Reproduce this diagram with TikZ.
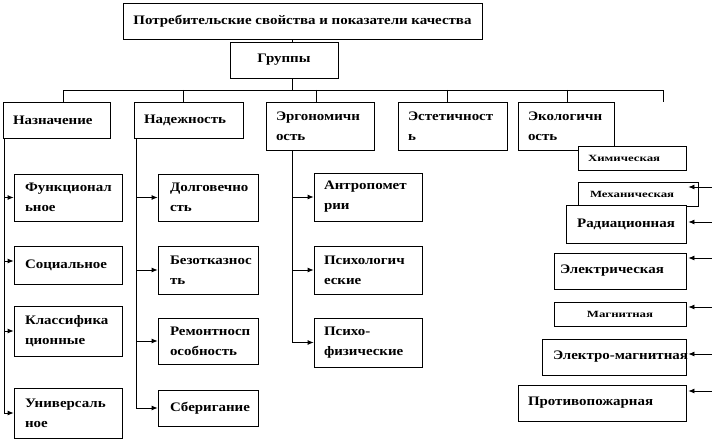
\documentclass[tikz,border=0pt]{standalone}
\usepackage{fontspec}
\setmainfont{Liberation Serif}[FakeStretch=1.15]
\newfontfamily\smallfnt{Liberation Serif}[FakeStretch=1.35]
\usetikzlibrary{arrows.meta}
\begin{document}
\begin{tikzpicture}[x=1pt,y=-1pt,
  ln/.style={line width=0.8pt},
  bx/.style={draw, fill=white, line width=0.8pt, inner sep=0pt,
    font=\bfseries\fontsize{13}{20}\selectfont},
  sbx/.style={draw, fill=white, line width=0.8pt, inner sep=0pt,
    font=\smallfnt\bfseries\fontsize{9.5}{12}\selectfont},
  lt/.style={align=left, text width=#1},
  sz/.style 2 args={minimum width=#1, minimum height=#2},
  arr/.style={ln, -{Latex[length=6pt,width=5pt]}}]
\useasboundingbox (0,0) rectangle (712,441);

% top levels
\node[bx, sz={359pt}{36pt}] (title) at (302.5,21) {Потребительские свойства и показатели качества};
\node[bx, sz={108pt}{36pt}] (grp) at (284,60) {Группы};

% level 2
\node[bx, sz={107pt}{36pt}, lt=87pt] (nazn) at (56.5,120) {Назначение};
\node[bx, sz={109pt}{36pt}, lt=89pt] (nadezh) at (188.5,120) {Надежность};
\node[bx, sz={108pt}{48pt}, lt=88pt] (ergo) at (320,126) {Эргономичн\\ость};
\node[bx, sz={109pt}{48pt}, lt=89pt] (estet) at (452.5,126) {Эстетичност\\ь};
\node[bx, sz={96pt}{48pt}, lt=76pt] (ekol) at (566,126) {Экологичн\\ость};

% column 1
\node[bx, sz={108pt}{47pt}, lt=86pt] (func) at (68,197.5) {Функционал\\ьное};
\node[bx, sz={108pt}{38pt}, lt=86pt] (soc) at (68,265) {Социальное};
\node[bx, sz={108pt}{50pt}, lt=86pt] (klass) at (68,331) {Классифика\\ционные};
\node[bx, sz={108pt}{50pt}, lt=86pt] (univ) at (68,413) {Универсаль\\ное};

% column 2
\node[bx, sz={100pt}{47pt}, lt=76pt] (dolg) at (208,197.5) {Долговечно\\сть};
\node[bx, sz={100pt}{48pt}, lt=76pt] (bezotk) at (208,270) {Безотказнос\\ть};
\node[bx, sz={100pt}{46pt}, lt=76pt] (remont) at (208,341) {Ремонтносп\\особность};
\node[bx, sz={100pt}{36pt}, lt=76pt] (sber) at (208,408) {Сберигание};

% column 3
\node[bx, sz={108pt}{48pt}, lt=88pt] (antr) at (368,197) {Антропомет\\рии};
\node[bx, sz={108pt}{48pt}, lt=88pt] (psih) at (368,270) {Психологич\\еские};
\node[bx, sz={108pt}{49pt}, lt=88pt] (psfiz) at (368,342.5) {Психо-\\физические};

% right column
\node[sbx, sz={108pt}{24pt}, lt=88pt] (him) at (632,158) {Химическая};
\node[sbx, sz={120pt}{24pt}, lt=96pt] (meh) at (638,194) {\raisebox{-5pt}{Механическая}};
\node[bx, sz={120pt}{38pt}] (rad) at (626,224.5) {Радиационная};
\node[bx, sz={132pt}{36pt}, lt=120pt] (elek) at (620,271) {Электрическая};
\node[sbx, sz={132pt}{24pt}] (magn) at (620,314) {Магнитная};
\node[bx, sz={144pt}{36pt}, lt=122pt] (elmag) at (614,357) {\mbox{Электро-магнитная}};
\node[bx, sz={168pt}{36pt}, lt=148pt] (protiv) at (602,403) {Противопожарная};

% trunk and bus
\coordinate (tr) at (292,90);
\coordinate (b1) at (63,90);
\coordinate (b2) at (183,90);
\coordinate (b3) at (316,90);
\coordinate (b4) at (447,90);
\coordinate (b5) at (567,90);
\coordinate (b6) at (663,90);
\coordinate (b6e) at (663,102);
\draw[ln] (title.south -| tr) -- (grp.north -| tr);
\draw[ln] (grp.south -| tr) -- (tr);
\draw[ln] (nazn.north -| b1) -- (b1) -- (b6) -- (b6e);
\draw[ln] (b2) -- (nadezh.north -| b2);
\draw[ln] (b3) -- (ergo.north -| b3);
\draw[ln] (b4) -- (estet.north -| b4);
\draw[ln] (b5) -- (ekol.north -| b5);

% column connectors
\coordinate (c1) at (4,0);
\coordinate (c2) at (136,0);
\draw[arr] (nazn.south -| c1) |- (func.west);
\draw[arr] (nazn.south -| c1) |- ([yshift=4pt]soc.west);
\draw[arr] (nazn.south -| c1) |- (klass.west);
\draw[arr] (nazn.south -| c1) |- (univ.west);
\draw[arr] (nadezh.south -| c2) |- (dolg.west);
\draw[arr] (nadezh.south -| c2) |- (bezotk.west);
\draw[arr] (nadezh.south -| c2) |- (remont.west);
\draw[arr] (nadezh.south -| c2) |- (sber.west);
\draw[arr] (ergo.south -| tr) |- (antr.west);
\draw[arr] (ergo.south -| tr) |- (psih.west);
\draw[arr] (ergo.south -| tr) |- (psfiz.west);

% right arrows
\coordinate (r1) at (712,187);
\coordinate (r2) at (712,222);
\coordinate (r3) at (712,258);
\coordinate (r4) at (712,307);
\coordinate (r5) at (712,354);
\coordinate (r6) at (712,391);
\draw[arr] (r1) -- ([xshift=-10pt]meh.east |- r1);
\draw[arr] (r2) -- ([xshift=2pt]rad.east |- r2);
\draw[arr] (r3) -- ([xshift=2pt]elek.east |- r3);
\draw[arr] (r4) -- ([xshift=2pt]magn.east |- r4);
\draw[arr] (r5) -- ([xshift=2pt]elmag.east |- r5);
\draw[arr] (r6) -- ([xshift=2pt]protiv.east |- r6);
\end{tikzpicture}
\end{document}
